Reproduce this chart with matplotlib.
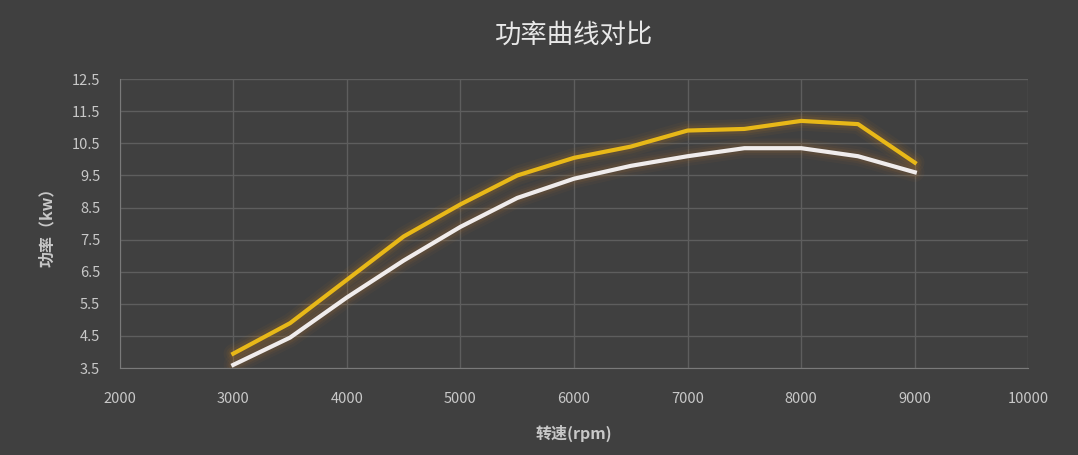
import matplotlib
matplotlib.use('Agg')
import matplotlib.pyplot as plt

plt.rcParams['font.family'] = ['Noto Sans CJK SC', 'DejaVu Sans']

# 数据
rpm = [3000, 3500, 4000, 4500, 5000, 5500, 6000, 6500, 7000, 7500, 8000, 8500, 9000]
power_yellow = [3.95, 4.9, 6.25, 7.6, 8.6, 9.5, 10.05, 10.4, 10.9, 10.95, 11.2, 11.1, 9.9]
power_white = [3.6, 4.45, 5.7, 6.85, 7.9, 8.8, 9.4, 9.8, 10.1, 10.35, 10.35, 10.1, 9.6]
x_ticks = [2000, 3000, 4000, 5000, 6000, 7000, 8000, 9000, 10000]
y_ticks = [3.5, 4.5, 5.5, 6.5, 7.5, 8.5, 9.5, 10.5, 11.5, 12.5]

bg = '#404040'
grid_c = '#5e5e5e'
text_c = '#c8c8c8'

fig = plt.figure(figsize=(10.78, 4.55), dpi=100, facecolor=bg)
ax = fig.add_axes([0.111, 0.191, 0.843, 0.635])
ax.set_facecolor(bg)

# 发光效果
for w, a in [(14, 0.06), (10, 0.08), (7, 0.12)]:
    ax.plot(rpm, power_yellow, color='#c07a20', linewidth=w, alpha=a, solid_capstyle='round')
    ax.plot(rpm, power_white, color='#b07030', linewidth=w, alpha=a, solid_capstyle='round')

ax.plot(rpm, power_yellow, color='#e8b818', linewidth=3)
ax.plot(rpm, power_white, color='#f0ecec', linewidth=3)

ax.set_xlim(2000, 10000)
ax.set_ylim(3.5, 12.5)
ax.set_xticks(x_ticks)
ax.set_yticks(y_ticks)
ax.set_yticklabels([str(v) for v in y_ticks])
ax.grid(True, color=grid_c, linewidth=1)
ax.set_axisbelow(True)
for s in ['top', 'right']:
    ax.spines[s].set_visible(False)
for s in ['left', 'bottom']:
    ax.spines[s].set_color('#7a7a7a')
ax.tick_params(colors=text_c, labelsize=10.5, length=0)
ax.tick_params(axis='x', pad=17)
ax.tick_params(axis='y', pad=14)

ax.set_title('功率曲线对比', color='#e8e8e8', fontsize=19, pad=26)
ax.set_xlabel('转速(rpm)', color=text_c, fontsize=11.5, fontweight='bold', labelpad=14)
ax.set_ylabel('功率（kw）', color=text_c, fontsize=11.5, fontweight='bold', labelpad=12)

fig.savefig('out.png', dpi=100, facecolor=bg)
